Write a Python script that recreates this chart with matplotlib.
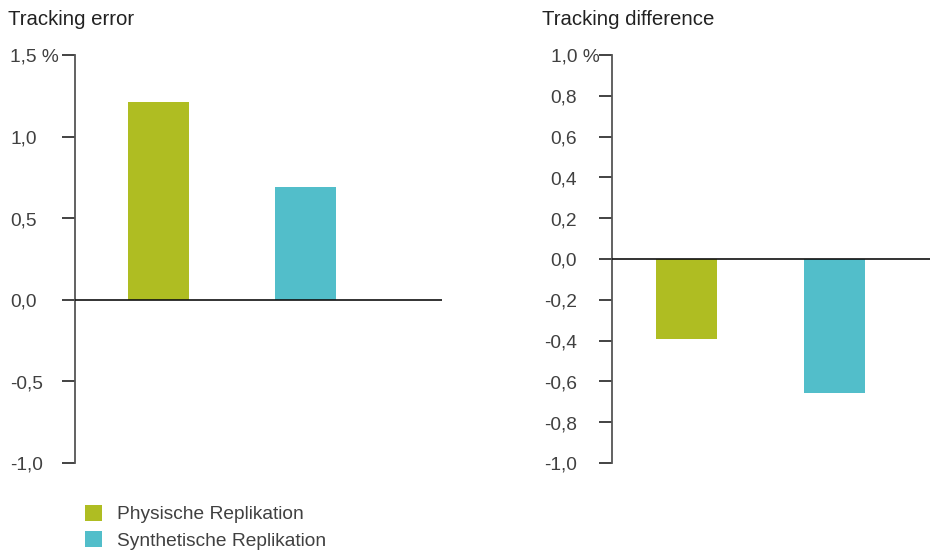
import matplotlib
matplotlib.use("Agg")
import matplotlib.pyplot as plt
from matplotlib.patches import Patch
from matplotlib.transforms import blended_transform_factory, ScaledTranslation

plt.rcParams['font.family'] = ['Liberation Sans', 'DejaVu Sans']

# Data
series = ["Physische Replikation", "Synthetische Replikation"]
colors = ["#AFBD22", "#52BECA"]
tracking_error = [1.21, 0.69]
tracking_difference = [-0.39, -0.655]

te_ticks = [-1.0, -0.5, 0.0, 0.5, 1.0, 1.5]
te_labels = ["-1,0", "-0,5", "0,0", "0,5", "1,0", "1,5 %"]
td_ticks = [-1.0, -0.8, -0.6, -0.4, -0.2, 0.0, 0.2, 0.4, 0.6, 0.8, 1.0]
td_labels = ["-1,0", "-0,8", "-0,6", "-0,4", "-0,2", "0,0", "0,2", "0,4", "0,6", "0,8", "1,0 %"]

W, H, DPI = 930, 552, 100
fig = plt.figure(figsize=(W / DPI, H / DPI), dpi=DPI)

TEXT = "#404040"
TITLE = "#222222"
SPINE = "#555555"
FS = 13.8
FS_TITLE = 14.7


def px_box(x0, x1, y_top, y_bot):
    return [x0 / W, 1 - y_bot / H, (x1 - x0) / W, (y_bot - y_top) / H]


def style_axes(ax, ticks, ylim, xlim):
    ax.set_xlim(*xlim)
    ax.set_ylim(*ylim)
    for s in ["top", "right", "bottom"]:
        ax.spines[s].set_visible(False)
    ax.spines["left"].set_color(SPINE)
    ax.spines["left"].set_linewidth(1.3)
    ax.set_xticks([])
    ax.set_yticks(ticks)
    ax.set_yticklabels([])
    ax.tick_params(axis="y", length=9.2, width=1.2, color="#222222", direction="out")
    ax.axhline(0, color="#111111", lw=1.2, zorder=3)
    ax.patch.set_alpha(0)


def tick_text(ax, ticks, labels, dx_px, ha, special=None):
    base = blended_transform_factory(ax.transAxes, ax.transData)
    for i, (t, lab) in enumerate(zip(ticks, labels)):
        dx = dx_px
        h = ha
        if special is not None and i == len(ticks) - 1:
            dx, h = special
        tr = base + ScaledTranslation(dx / DPI, -2.5 / DPI, fig.dpi_scale_trans)
        ax.text(0, t, lab, transform=tr, ha=h, va="center", fontsize=FS,
                color=TEXT, clip_on=False)


x = [0, 1]

# Left panel: tracking error
ax1 = fig.add_axes(px_box(75, 442, 55, 463))
style_axes(ax1, te_ticks, (-1.0, 1.5), (-0.568, 1.929))
ax1.bar(x, tracking_error, width=0.415, color=colors, zorder=2)
tick_text(ax1, te_ticks, te_labels, 10 - 75, "left")
fig.text(8 / W, 1 - 25 / H, "Tracking error", fontsize=FS_TITLE, color=TITLE,
         ha="left", va="baseline")

# Right panel: tracking difference
ax2 = fig.add_axes(px_box(612, 930, 55, 463))
style_axes(ax2, td_ticks, (-1.0, 1.0), (-0.503, 1.645))
ax2.bar(x, tracking_difference, width=0.41, color=colors, zorder=2)
tick_text(ax2, td_ticks, td_labels, 577 - 612, "right", special=(551 - 612, "left"))
fig.text(542 / W, 1 - 25 / H, "Tracking difference", fontsize=FS_TITLE, color=TITLE,
         ha="left", va="baseline")

# Legend
handles = [Patch(facecolor=c, edgecolor="none") for c in colors]
leg = fig.legend(handles, series, loc="upper left",
                 bbox_to_anchor=(85 / W, 1 - 505 / H), frameon=False,
                 fontsize=FS, handlelength=0.88, handleheight=0.88,
                 handletextpad=0.8, labelspacing=0.4, borderpad=0,
                 borderaxespad=0)
for t in leg.get_texts():
    t.set_color(TEXT)

fig.savefig("out.png", dpi=DPI)
